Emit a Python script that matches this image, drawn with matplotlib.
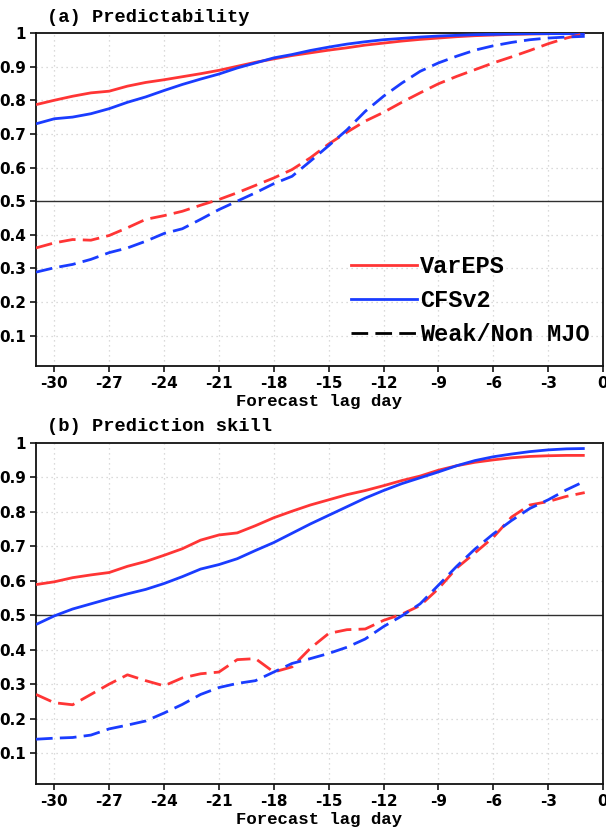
import matplotlib
matplotlib.use("Agg")
import matplotlib.pyplot as plt
from matplotlib.lines import Line2D

plt.rcParams['axes.unicode_minus'] = False

days = list(range(-31, 0))

# (a) Predictability
pred_var = [0.787, 0.800, 0.812, 0.822, 0.827, 0.842, 0.853, 0.861, 0.870, 0.879,
            0.889, 0.901, 0.913, 0.923, 0.933, 0.941, 0.949, 0.956, 0.964, 0.970,
            0.976, 0.981, 0.985, 0.989, 0.992, 0.994, 0.996, 0.997, 0.998, 0.999, 0.999]
pred_cfs = [0.730, 0.745, 0.750, 0.760, 0.775, 0.794, 0.810, 0.829, 0.847, 0.863,
            0.878, 0.896, 0.911, 0.926, 0.936, 0.948, 0.958, 0.967, 0.974, 0.980,
            0.984, 0.988, 0.991, 0.993, 0.995, 0.996, 0.997, 0.998, 0.998, 0.998, 0.998]
pred_var_weak = [0.361, 0.376, 0.386, 0.384, 0.398, 0.421, 0.446, 0.457, 0.470, 0.488,
                 0.505, 0.525, 0.547, 0.569, 0.594, 0.629, 0.670, 0.705, 0.738, 0.764,
                 0.794, 0.822, 0.849, 0.871, 0.891, 0.911, 0.929, 0.948, 0.968, 0.985, 0.998]
pred_cfs_weak = [0.289, 0.302, 0.312, 0.327, 0.347, 0.361, 0.381, 0.404, 0.418, 0.446,
                 0.475, 0.500, 0.525, 0.552, 0.574, 0.619, 0.665, 0.712, 0.767, 0.812,
                 0.851, 0.886, 0.911, 0.931, 0.949, 0.962, 0.972, 0.980, 0.985, 0.988, 0.990]

# (b) Prediction skill
skill_var = [0.589, 0.597, 0.609, 0.617, 0.624, 0.642, 0.656, 0.674, 0.693, 0.718,
             0.733, 0.739, 0.760, 0.783, 0.802, 0.820, 0.835, 0.850, 0.862, 0.876,
             0.891, 0.904, 0.921, 0.934, 0.944, 0.951, 0.957, 0.961, 0.963, 0.964, 0.964]
skill_cfs = [0.473, 0.498, 0.518, 0.533, 0.548, 0.562, 0.575, 0.592, 0.612, 0.634,
             0.647, 0.664, 0.688, 0.711, 0.738, 0.765, 0.790, 0.815, 0.840, 0.862,
             0.882, 0.899, 0.916, 0.934, 0.949, 0.960, 0.968, 0.975, 0.980, 0.983, 0.984]
skill_var_weak = [0.270, 0.246, 0.240, 0.270, 0.300, 0.327, 0.310, 0.295, 0.318, 0.330,
                  0.335, 0.371, 0.374, 0.335, 0.350, 0.404, 0.447, 0.458, 0.460, 0.485,
                  0.503, 0.528, 0.577, 0.637, 0.681, 0.726, 0.785, 0.820, 0.830, 0.845, 0.856]
skill_cfs_weak = [0.140, 0.143, 0.145, 0.152, 0.170, 0.181, 0.193, 0.216, 0.241, 0.270,
                  0.290, 0.302, 0.310, 0.335, 0.360, 0.374, 0.389, 0.407, 0.431, 0.467,
                  0.498, 0.533, 0.587, 0.642, 0.692, 0.736, 0.775, 0.810, 0.835, 0.864, 0.889]

xticks = [-30, -27, -24, -21, -18, -15, -12, -9, -6, -3, 0]
yticks = [0.1, 0.2, 0.3, 0.4, 0.5, 0.6, 0.7, 0.8, 0.9, 1]
ytick_labels = ['0.1', '0.2', '0.3', '0.4', '0.5', '0.6', '0.7', '0.8', '0.9', '1']
titles = ['(a) Predictability', '(b) Prediction skill']
legend_labels = ['VarEPS', 'CFSv2', 'Weak/Non MJO']

RED = '#ff3535'
BLUE = '#1a3cff'
LW = 2.0
DASH = (6, 2.6)
TXT = ['Liberation Mono', 'DejaVu Sans Mono']

fig = plt.figure(figsize=(6.06, 8.30), dpi=100)
ax_a = fig.add_axes([36/606, 1-366/830, 567/606, 333/830])
ax_b = fig.add_axes([36/606, 1-784/830, 567/606, 341/830])

panels = [
    (ax_a, pred_var, pred_cfs, pred_var_weak, pred_cfs_weak),
    (ax_b, skill_var, skill_cfs, skill_var_weak, skill_cfs_weak),
]

for i, (ax, v, c, vw, cw) in enumerate(panels):
    ax.set_xlim(-31, 0)
    ax.set_ylim(0.01, 1)
    ax.set_xticks(xticks)
    ax.set_xticklabels([str(t) for t in xticks])
    ax.set_yticks(yticks)
    ax.set_yticklabels(ytick_labels)
    for t in xticks[:-1]:
        ax.axvline(t, color='#cfcfcf', lw=0.9, ls=(0, (1, 3)), zorder=0)
    for t in yticks[:-1]:
        if abs(t - 0.5) > 1e-6:
            ax.axhline(t, color='#cfcfcf', lw=0.9, ls=(0, (1, 3)), zorder=0)
    ax.axhline(0.5, color='#303030', lw=1.0, zorder=1)
    ax.plot(days, v, color=RED, lw=LW, solid_capstyle='butt', zorder=3)
    ax.plot(days, c, color=BLUE, lw=LW, solid_capstyle='butt', zorder=3)
    ax.plot(days, vw, color=RED, lw=LW, dashes=DASH, zorder=3)
    ax.plot(days, cw, color=BLUE, lw=LW, dashes=DASH, zorder=3)
    for s in ax.spines.values():
        s.set_linewidth(1.3)
        s.set_color('#111111')
    ax.tick_params(direction='out', length=4, width=1.1, pad=3)
    for lab in ax.get_xticklabels() + ax.get_yticklabels():
        lab.set_family('DejaVu Sans')
        lab.set_fontweight('bold')
        lab.set_fontsize(11)
    ax.set_xlabel('Forecast lag day', family=TXT, fontweight='bold', fontsize=12.5, labelpad=2)
    ax.text(0.02, 1.022, titles[i], transform=ax.transAxes, family=TXT,
            fontweight='bold', fontsize=13.5, ha='left', va='bottom')

handles = [Line2D([], [], color=RED, lw=LW),
           Line2D([], [], color=BLUE, lw=LW),
           Line2D([], [], color='black', lw=LW, dashes=DASH)]
leg = ax_a.legend(handles, legend_labels, loc='upper left', bbox_to_anchor=(0.555, 0.333),
                  frameon=False, borderpad=0, borderaxespad=0, handlelength=2.8,
                  handletextpad=0.15, labelspacing=0.47,
                  prop={'family': TXT, 'weight': 'bold', 'size': 17})

fig.savefig('out.png', dpi=100)
